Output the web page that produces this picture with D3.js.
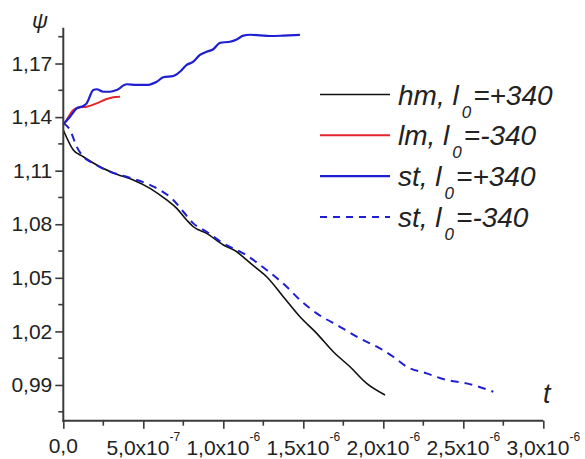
<!DOCTYPE html>
<html>
<head>
<meta charset="utf-8">
<script src="https://cdn.jsdelivr.net/npm/d3@7"></script>
<style>
  html, body { margin: 0; padding: 0; background: #fff; }
  svg { display: block; font-family: "Liberation Sans", Arial, sans-serif; }
</style>
</head>
<body>
<svg id="chart" width="585" height="459"></svg>
<script>
// time in units of 1e-6 s, psi dimensionless
const hmT   = [0, 0.0625, 0.125, 0.229, 0.334, 0.4375, 0.542, 0.646, 0.709, 0.771, 0.8125, 0.896, 1.0, 1.084, 1.146, 1.209, 1.271, 1.375, 1.479, 1.584, 1.6875, 1.792, 1.896, 2.011];
const hmPsi = [1.1328, 1.1216, 1.1178, 1.1122, 1.1080, 1.1048, 1.1001, 1.0936, 1.0889, 1.0824, 1.0786, 1.0749, 1.0684, 1.0646, 1.0600, 1.0553, 1.0506, 1.0394, 1.0282, 1.0189, 1.0086, 1.0002, 0.9909, 0.9844];

const lmT   = [0, 0.021, 0.0625, 0.104, 0.146, 0.209, 0.271, 0.3125, 0.354];
const lmPsi = [1.1356, 1.1384, 1.1440, 1.1455, 1.1458, 1.1477, 1.1501, 1.1511, 1.1514];

const stPosT   = [0, 0.042, 0.084, 0.125, 0.146, 0.1875, 0.209, 0.25, 0.292, 0.334, 0.396, 0.459, 0.521, 0.584, 0.625, 0.6875, 0.729, 0.771, 0.8125, 0.854, 0.896, 0.9375, 0.979, 1.042, 1.084, 1.125, 1.167, 1.229, 1.292, 1.375, 1.479];
const stPosPsi = [1.1360, 1.1402, 1.1449, 1.1462, 1.1477, 1.1552, 1.1556, 1.1542, 1.1542, 1.1552, 1.1584, 1.1580, 1.1580, 1.1598, 1.1623, 1.1630, 1.1654, 1.1692, 1.1710, 1.1748, 1.1766, 1.1780, 1.1816, 1.1822, 1.1835, 1.1856, 1.1861, 1.1858, 1.1854, 1.1856, 1.1860];

const stNegT   = [0, 0.042, 0.084, 0.125, 0.1875, 0.292, 0.396, 0.542, 0.604, 0.6875, 0.75, 0.8125, 0.896, 1.0, 1.125, 1.271, 1.396, 1.479, 1.584, 1.729, 1.854, 1.979, 2.0625, 2.146, 2.271, 2.396, 2.521, 2.6875];
const stNegPsi = [1.1367, 1.1328, 1.1234, 1.1178, 1.1141, 1.1094, 1.1066, 1.1020, 1.0992, 1.0936, 1.0870, 1.0805, 1.0758, 1.0693, 1.0637, 1.0544, 1.0450, 1.0376, 1.0301, 1.0226, 1.0161, 1.0105, 1.0058, 1.0002, 0.9965, 0.9928, 0.9909, 0.9862];

// axis ticks
const yMajor = [0.99, 1.02, 1.05, 1.08, 1.11, 1.14, 1.17];
const yMinor = [0.975, 1.005, 1.035, 1.065, 1.095, 1.125, 1.155, 1.185];
const xMajor = [0, 0.5, 1.0, 1.5, 2.0, 2.5, 3.0];
const xMinor = [0.25, 0.75, 1.25, 1.75, 2.25, 2.75];
const xMant  = ["0,0", "5,0", "1,0", "1,5", "2,0", "2,5", "3,0"];
const xExp   = [null, "-7", "-6", "-6", "-6", "-6", "-6"];

const legendLabels = [
  { name: "hm, l", sub: "0", rest: "=+340" },
  { name: "lm, l", sub: "0", rest: "=-340" },
  { name: "st, l", sub: "0", rest: "=+340" },
  { name: "st, l", sub: "0", rest: "=-340" }
];

const series = [
  { t: hmT,    v: hmPsi,    color: "#111111", width: 1.6, dash: null },
  { t: lmT,    v: lmPsi,    color: "#e3262b", width: 2,   dash: null },
  { t: stPosT, v: stPosPsi, color: "#1f1fd2", width: 2.2, dash: null },
  { t: stNegT, v: stNegPsi, color: "#1f1fd2", width: 2,   dash: "8,6" }
];

const svg = d3.select("#chart");
const x = d3.scaleLinear().domain([0, 3.0]).range([63.3, 543.3]);
const y = d3.scaleLinear().domain([0.97, 1.19]).range([420.7, 27.8]);

const axisColor = "#3a3a3a";
const textColor = "#222";

// curves
const line = d3.line().curve(d3.curveMonotoneX);
const plot = svg.append("g");
series.forEach(s => {
  const pts = s.t.map((t, i) => [x(t), y(s.v[i])]);
  plot.append("path")
    .attr("d", line(pts))
    .attr("fill", "none")
    .attr("stroke", s.color)
    .attr("stroke-width", s.width)
    .attr("stroke-dasharray", s.dash)
    .attr("stroke-linejoin", "round");
});

// y axis
const yAxisG = svg.append("g").attr("transform", `translate(${x(0)},0)`);
yAxisG.call(d3.axisLeft(y).tickValues(yMajor).tickSize(8).tickPadding(3)
  .tickFormat(d => d3.format(".2f")(d).replace(".", ",")));
yAxisG.call(g => g.select(".domain").remove());
yAxisG.selectAll(".tick line").attr("stroke", axisColor).attr("stroke-width", 1.6);
yAxisG.selectAll(".tick text").attr("fill", textColor).style("font-size", "21px")
  .style("font-family", "Liberation Sans, Arial, sans-serif");
yAxisG.selectAll(".minor").data(yMinor).enter().append("line")
  .attr("x1", -5).attr("x2", 0).attr("y1", d => y(d)).attr("y2", d => y(d))
  .attr("stroke", axisColor).attr("stroke-width", 1.6);
yAxisG.append("line").attr("x1", 0).attr("x2", 0)
  .attr("y1", y.range()[1]).attr("y2", y.range()[0] + 1)
  .attr("stroke", axisColor).attr("stroke-width", 2);

// x axis
const xAxisG = svg.append("g").attr("transform", `translate(0,${y(0.97)})`);
xAxisG.call(d3.axisBottom(x).tickValues(xMajor).tickSize(8).tickFormat(""));
xAxisG.call(g => g.select(".domain").remove());
xAxisG.selectAll(".tick line").attr("stroke", axisColor).attr("stroke-width", 1.6);
xAxisG.selectAll(".minor").data(xMinor).enter().append("line")
  .attr("x1", d => x(d)).attr("x2", d => x(d)).attr("y1", 0).attr("y2", 5)
  .attr("stroke", axisColor).attr("stroke-width", 1.6);
xAxisG.append("line").attr("x1", x.range()[0] - 1).attr("x2", x.range()[1])
  .attr("y1", 0).attr("y2", 0).attr("stroke", axisColor).attr("stroke-width", 2);

xMajor.forEach((v, i) => {
  const t = svg.append("text")
    .attr("x", x(v)).attr("y", xExp[i] ? 455 : 453)
    .attr("text-anchor", "middle")
    .attr("fill", textColor).style("font-size", "21px")
    .text(xExp[i] ? xMant[i] + "x10" : xMant[i]);
  if (xExp[i]) {
    t.append("tspan").attr("dy", -14).style("font-size", "12px").text(xExp[i]);
  }
});

// axis titles
svg.append("text").attr("x", 32).attr("y", 28)
  .style("font-style", "italic").style("font-size", "22px").attr("fill", textColor).text("ψ");
svg.append("text").attr("x", 543).attr("y", 403)
  .style("font-style", "italic").style("font-size", "27px").attr("fill", textColor).text("t");

// legend
const legend = svg.append("g");
legendLabels.forEach((lab, i) => {
  const s = series[i];
  const ly = 94.5 + i * 40.8;
  legend.append("line")
    .attr("x1", 320).attr("x2", 390).attr("y1", ly).attr("y2", ly)
    .attr("stroke", s.color).attr("stroke-width", s.width)
    .attr("stroke-dasharray", s.dash ? "7,6" : null);
  const txt = legend.append("text")
    .attr("x", 398).attr("y", ly + 10)
    .attr("fill", textColor).style("font-size", "28px").style("font-style", "italic");
  txt.append("tspan").text(lab.name);
  txt.append("tspan").attr("dx", 3).attr("dy", 13).style("font-size", "17px").text(lab.sub);
  txt.append("tspan").attr("dx", 2).attr("dy", -13).text(lab.rest);
});
</script>
</body>
</html>
